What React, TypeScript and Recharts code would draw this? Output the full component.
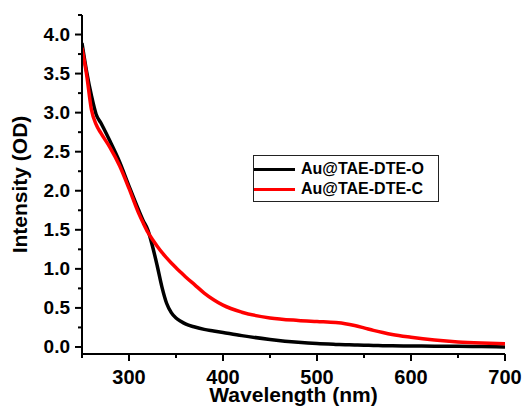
import React from 'react';
import { LineChart, Line, XAxis, YAxis, Legend, Label } from 'recharts';

const wavelengths = [250, 255, 260, 265, 270, 280, 290, 300, 310, 315, 320, 325, 330, 335, 340, 345, 350, 355, 360, 370, 380, 390, 400, 420, 450, 480, 500, 520, 530, 540, 550, 560, 570, 580, 600, 625, 650, 675, 700];
const openForm = [3.89, 3.52, 3.22, 2.98, 2.87, 2.63, 2.37, 2.06, 1.76, 1.62, 1.5, 1.29, 1.04, 0.77, 0.56, 0.44, 0.37, 0.33, 0.295, 0.255, 0.225, 0.205, 0.185, 0.145, 0.097, 0.06, 0.043, 0.033, 0.029, 0.025, 0.022, 0.02, 0.017, 0.015, 0.012, 0.01, 0.008, 0.005, 0.0];
const closedForm = [3.83, 3.48, 3.04, 2.85, 2.74, 2.55, 2.32, 2.03, 1.72, 1.59, 1.47, 1.375, 1.29, 1.21, 1.14, 1.075, 1.015, 0.957, 0.9, 0.795, 0.69, 0.605, 0.535, 0.445, 0.372, 0.34, 0.326, 0.312, 0.298, 0.275, 0.245, 0.213, 0.185, 0.16, 0.125, 0.09, 0.065, 0.05, 0.04];

const xTicks = [250, 300, 350, 400, 450, 500, 550, 600, 650, 700];
const xLabels = [300, 400, 500, 600, 700];
const yTicks = [0, 0.25, 0.5, 0.75, 1, 1.25, 1.5, 1.75, 2, 2.25, 2.5, 2.75, 3, 3.25, 3.5, 3.75, 4, 4.25];
const yLabels = [0, 0.5, 1, 1.5, 2, 2.5, 3, 3.5, 4];

const seriesNames = ['Au@TAE-DTE-O', 'Au@TAE-DTE-C'];
const seriesColors = ['#000000', '#ff0000'];

const data = wavelengths.map((w, i) => ({ w, o: openForm[i], c: closedForm[i] }));

const FONT = '"Liberation Sans", Arial, sans-serif';

const XTick = (props: any) => {
  const { x, y, payload } = props;
  const v = payload.value;
  const major = xLabels.includes(v);
  return (
    <g>
      <line x1={x} x2={x} y1={y} y2={y + (major ? 7 : 4)} stroke="#000" strokeWidth={2} />
      {major && (
        <text x={x} y={y + 30} textAnchor="middle" fontFamily={FONT} fontWeight="bold" fontSize={20} fill="#000">
          {v}
        </text>
      )}
    </g>
  );
};

const YTick = (props: any) => {
  const { x, y, payload } = props;
  const v = payload.value;
  const major = yLabels.includes(v);
  return (
    <g>
      <line x1={x} x2={x - (major ? 7 : 4)} y1={y} y2={y} stroke="#000" strokeWidth={2} />
      {major && (
        <text x={x - 12} y={y + 6.5} textAnchor="end" fontFamily={FONT} fontWeight="bold" fontSize={19} fill="#000">
          {v.toFixed(1)}
        </text>
      )}
    </g>
  );
};

const LegendBox = () => (
  <div
    style={{
      border: '1px solid #222',
      width: 186,
      height: 47,
      boxSizing: 'border-box',
      fontFamily: FONT,
      fontWeight: 'bold',
      fontSize: 16,
      paddingTop: 3,
    }}
  >
    {seriesNames.map((name, i) => (
      <div key={name} style={{ display: 'flex', alignItems: 'center', height: 20 }}>
        <span style={{ display: 'inline-block', width: 41, height: 3, background: seriesColors[i], marginRight: 6 }} />
        <span style={{ lineHeight: '20px' }}>{name}</span>
      </div>
    ))}
  </div>
);

export default function App() {
  return (
    <div style={{ position: 'absolute', left: 0, top: 0, background: '#fff' }}>
      <LineChart width={525} height={412} data={data} margin={{ top: 15, right: 20, bottom: 0, left: 0 }}>
        <XAxis
          dataKey="w"
          type="number"
          domain={[250, 700]}
          ticks={xTicks}
          allowDataOverflow
          height={58}
          tickSize={0}
          tickMargin={0}
          tickLine={false}
          tick={<XTick />}
          axisLine={{ stroke: '#000', strokeWidth: 2 }}
          interval={0}
        >
          <Label
            value="Wavelength (nm)"
            position="insideBottom"
            offset={10}
            style={{ fontFamily: FONT, fontWeight: 'bold', fontSize: 21, fill: '#000' }}
          />
        </XAxis>
        <YAxis
          type="number"
          domain={[-0.09, 4.25]}
          ticks={yTicks}
          allowDataOverflow
          width={82}
          tickSize={0}
          tickMargin={0}
          tickLine={false}
          tick={<YTick />}
          axisLine={{ stroke: '#000', strokeWidth: 2 }}
          interval={0}
        >
          <Label
            value="Intensity (OD)"
            angle={-90}
            position="insideLeft"
            offset={20}
            style={{ textAnchor: 'middle', fontFamily: FONT, fontWeight: 'bold', fontSize: 21, fill: '#000' }}
          />
        </YAxis>
        <Legend
          layout="horizontal"
          verticalAlign="middle"
          align="center"
          content={<LegendBox />}
          wrapperStyle={{ left: 253, top: 155, width: 'auto', height: 'auto' }}
        />
        <Line type="monotone" dataKey="o" name={seriesNames[0]} stroke={seriesColors[0]} strokeWidth={3.5} dot={false} isAnimationActive={false} />
        <Line type="monotone" dataKey="c" name={seriesNames[1]} stroke={seriesColors[1]} strokeWidth={3.5} dot={false} isAnimationActive={false} />
      </LineChart>
    </div>
  );
}
